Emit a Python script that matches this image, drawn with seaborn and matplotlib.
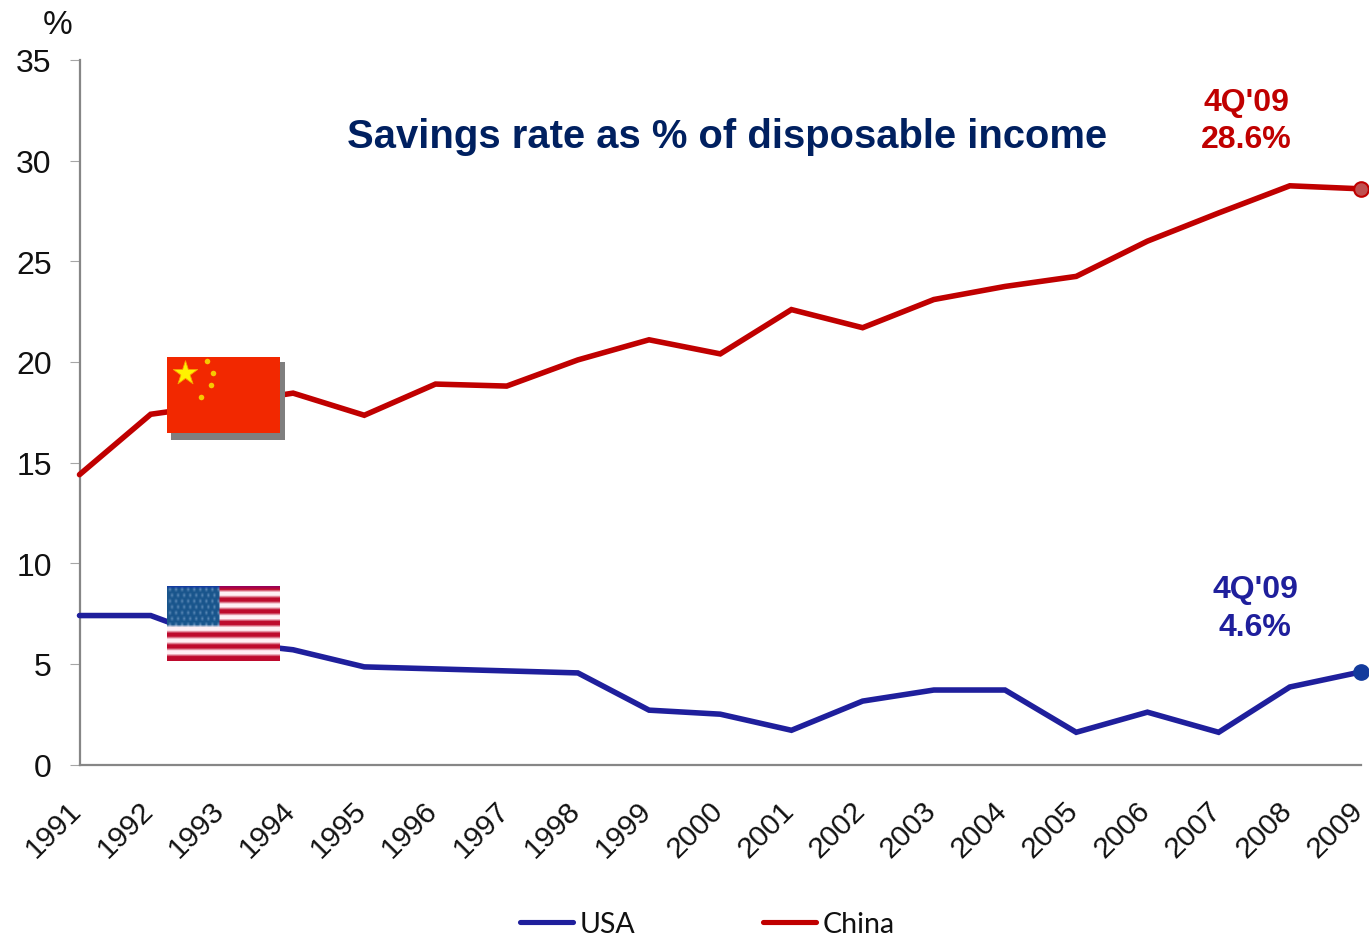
import numpy as np
import pandas as pd
import seaborn as sns
import matplotlib
matplotlib.use("Agg")
import matplotlib.pyplot as plt
from matplotlib.lines import Line2D
from matplotlib.patches import Rectangle
from matplotlib.transforms import ScaledTranslation

years = list(range(1991, 2010))
usa = [7.4, 7.4, 6.1, 5.7, 4.85, 4.75, 4.65, 4.55, 2.7, 2.5, 1.7, 3.15, 3.7, 3.7, 1.6, 2.6, 1.6, 3.85, 4.6]
china = [14.4, 17.4, 17.9, 18.45, 17.35, 18.9, 18.8, 20.1, 21.1, 20.4, 22.6, 21.7, 23.1, 23.75, 24.25, 26.0, 27.4, 28.75, 28.6]
y_ticks = [0, 5, 10, 15, 20, 25, 30, 35]

USA_BLUE = "#1f1f9c"
CHINA_RED = "#c00000"
TITLE_NAVY = "#002060"
AXIS_GREY = "#868686"

W, H = 1369, 937
sns.set_theme(style="white")
plt.rcParams["font.family"] = ["Liberation Sans", "DejaVu Sans"]

fig = plt.figure(figsize=(W / 100, H / 100), dpi=100, facecolor="white")
ax = fig.add_axes([79.5 / W, 1 - 765.5 / H, (1361 - 79.5) / W, (765.5 - 61) / H])

df = pd.DataFrame({"year": years, "USA": usa, "China": china}).melt(
    "year", var_name="country", value_name="rate")
sns.lineplot(data=df, x="year", y="rate", hue="country", hue_order=["USA", "China"],
             palette={"USA": USA_BLUE, "China": CHINA_RED}, linewidth=4.0,
             legend=False, ax=ax, clip_on=False, solid_joinstyle="miter", zorder=3)

ax.set_xlim(years[0], years[-1])
ax.set_ylim(0, 35)
ax.set_xlabel("")
ax.set_ylabel("")
ax.set_xticks(years)
ax.set_yticks(y_ticks)
ax.tick_params(axis="y", length=7, width=0.8, color="#a6a6a6", labelsize=23, pad=13, labelcolor="#111111", left=True)
ax.tick_params(axis="x", length=0, labelsize=21.5, pad=8, labelcolor="#111111")
plt.setp(ax.get_xticklabels(), rotation=45, ha="right", va="top", rotation_mode="anchor")

# Nudge the slanted year labels clear of the axis
year_shift = ScaledTranslation(-12 / 100, -20 / 100, fig.dpi_scale_trans)
for lab in ax.get_xticklabels():
    lab.set_transform(lab.get_transform() + year_shift)

sns.despine(ax=ax)
for side in ("left", "bottom"):
    ax.spines[side].set_color(AXIS_GREY)
    ax.spines[side].set_linewidth(1.6)

# End-of-series markers
ax.plot(years[-1], china[-1], "o", ms=10.5, mfc="#bf5050", mec=CHINA_RED, mew=1.5, clip_on=False, zorder=5)
ax.plot(years[-1], usa[-1], "o", ms=11, mfc="#123a9c", mec="#123a9c", clip_on=False, zorder=5)

# Headline and end labels
fig.text(727 / W, 1 - 136.5 / H, "Savings rate as % of disposable income", color=TITLE_NAVY,
         fontsize=28.8, fontweight="bold", ha="center", va="center")
fig.text(1246 / W, 1 - 103 / H, "4Q'09", color=CHINA_RED, fontsize=23, fontweight="bold", ha="center", va="center")
fig.text(1246 / W, 1 - 140 / H, f"{china[-1]}%", color=CHINA_RED, fontsize=23, fontweight="bold", ha="center", va="center")
fig.text(1255 / W, 1 - 590 / H, "4Q'09", color=USA_BLUE, fontsize=23, fontweight="bold", ha="center", va="center")
fig.text(1255 / W, 1 - 628 / H, f"{usa[-1]}%", color=USA_BLUE, fontsize=23, fontweight="bold", ha="center", va="center")
fig.text(58 / W, 1 - 25 / H, "%", color="#111111", fontsize=24, ha="center", va="center")


def flag_axes(left, top, right, bottom):
    a = fig.add_axes([left / W, 1 - bottom / H, (right - left) / W, (bottom - top) / H], zorder=6)
    a.set_axis_off()
    return a


# China flag with its drop shadow
fig.add_artist(Rectangle((171 / W, 1 - 441 / H), 114 / W, 78 / H, transform=fig.transFigure,
                         facecolor="#7f7f7f", edgecolor="none", zorder=5))
cn = flag_axes(167, 357.5, 280, 434)
cn.set_xlim(0, 113)
cn.set_ylim(77, 0)
cn.add_patch(Rectangle((0, 0), 113, 77, facecolor="#f22800", edgecolor="none"))
cn.scatter([18], [16.5], marker="*", s=340, color="#fff200", edgecolors="#f7a000", linewidths=0.6)
cn.scatter([40, 46, 44, 34], [5, 17, 29, 41], marker="o", s=16, color="#f7c800", linewidths=0)

# US flag: a coarse pixel grid of stripes and canton, softened when enlarged
stripe_rows = 13
px_per_stripe = 2
grid = np.zeros((stripe_rows * px_per_stripe, 56, 3))
red = np.array([190, 10, 45]) / 255
white = np.array([255, 240, 245]) / 255
for i in range(grid.shape[0]):
    grid[i, :] = red if (i // px_per_stripe) % 2 == 0 else white
grid[0, 26:] = np.array([150, 0, 90]) / 255
canton_rows = 14
grid[:canton_rows, :26] = np.array([25, 85, 140]) / 255
grid[0, :26] = np.array([20, 60, 160]) / 255
for r in range(1, canton_rows, 2):
    for c in range(1 + (r // 2) % 2, 26, 3):
        grid[r, c] = np.array([95, 140, 185]) / 255
us = flag_axes(167, 586.5, 280, 662)
us.imshow(grid, aspect="auto", interpolation="bilinear")

# Legend
handles = [Line2D([], [], color=USA_BLUE, lw=3.7, solid_capstyle="round"),
           Line2D([], [], color=CHINA_RED, lw=3.7, solid_capstyle="round")]
fig.legend(handles, ["USA", "China"], ncol=2, frameon=False, loc="center left",
           bbox_to_anchor=(500 / W, 1 - 925 / H), prop={"family": "Lato", "size": 20.5},
           labelcolor="#111111", handlelength=1.88, handletextpad=0.2, columnspacing=4.5, borderpad=0.2)

fig.savefig("out.png", dpi=100, facecolor="white")
